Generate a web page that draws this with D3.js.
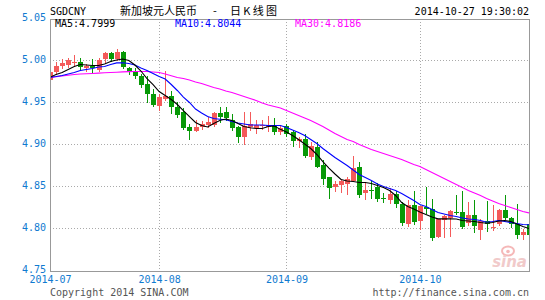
<!DOCTYPE html>
<html><head><meta charset="utf-8">
<script src="https://cdn.jsdelivr.net/npm/d3@7"></script>
<style>body{margin:0;background:#fff}svg{display:block}</style>
</head><body>
<svg id="c" width="545" height="300"></svg>
<script>
// ---- DATA ----
const dates = [
"2014-07-08","2014-07-09","2014-07-10","2014-07-11","2014-07-14","2014-07-15","2014-07-16","2014-07-17","2014-07-18",
"2014-07-21","2014-07-22","2014-07-23","2014-07-24","2014-07-25","2014-07-28","2014-07-29","2014-07-30","2014-07-31",
"2014-08-01","2014-08-04","2014-08-05","2014-08-06","2014-08-07","2014-08-08","2014-08-11","2014-08-12","2014-08-13",
"2014-08-14","2014-08-15","2014-08-18","2014-08-19","2014-08-20","2014-08-21","2014-08-22","2014-08-25","2014-08-26",
"2014-08-27","2014-08-28","2014-08-29",
"2014-09-01","2014-09-02","2014-09-03","2014-09-04","2014-09-05","2014-09-08","2014-09-09","2014-09-10","2014-09-11",
"2014-09-12","2014-09-15","2014-09-16","2014-09-17","2014-09-18","2014-09-19","2014-09-22","2014-09-23","2014-09-24",
"2014-09-25","2014-09-26","2014-09-29","2014-09-30",
"2014-10-01","2014-10-02","2014-10-03","2014-10-06","2014-10-07","2014-10-08","2014-10-09","2014-10-10","2014-10-13",
"2014-10-14","2014-10-15","2014-10-16","2014-10-17","2014-10-20","2014-10-21","2014-10-22","2014-10-23","2014-10-24",
"2014-10-27"];
const open = [
4.9762,4.9861,4.9929,4.9952,4.9976,4.9988,4.9913,4.9940,4.9881,5.0012,
5.0095,5.0012,5.0107,4.9908,4.9873,4.9821,4.9726,4.9607,4.9464,4.9536,
4.9583,4.9452,4.9381,4.9206,4.9158,4.9208,4.9232,4.9238,4.9373,4.9385,
4.9291,4.9206,4.9087,4.9214,4.9196,4.9218,4.9208,4.9238,4.9146,4.9226,
4.9146,4.9039,4.9068,4.8857,4.8968,4.8750,4.8611,4.8492,4.8512,4.8532,
4.8571,4.8730,4.8417,4.8464,4.8492,4.8365,4.8345,4.8405,4.8286,4.8048,
4.8274,4.8087,4.8254,4.8235,4.7896,4.8104,4.8128,4.8202,4.8194,4.8063,
4.8155,4.7984,4.8095,4.8004,4.8048,4.8223,4.8128,4.8048,4.7917,4.8048];
const high = [
4.9929,4.9980,5.0012,5.0024,5.0071,5.0024,4.9964,5.0012,5.0024,5.0107,
5.0107,5.0131,5.0110,4.9920,4.9905,4.9845,4.9821,4.9655,4.9607,4.9873,
4.9634,4.9504,4.9429,4.9250,4.9286,4.9277,4.9333,4.9385,4.9452,4.9444,
4.9369,4.9226,4.9385,4.9385,4.9286,4.9286,4.9345,4.9321,4.9226,4.9246,
4.9167,4.9087,4.9127,4.9027,4.9027,4.8810,4.8615,4.8571,4.8595,4.8611,
4.8869,4.8789,4.8551,4.8563,4.8539,4.8417,4.8488,4.8452,4.8313,4.8342,
4.8452,4.8265,4.8500,4.8357,4.8119,4.8155,4.8223,4.8393,4.8452,4.8313,
4.8342,4.8116,4.8325,4.8274,4.8235,4.8393,4.8135,4.8294,4.7996,4.8214];
const low = [
4.9742,4.9845,4.9905,4.9917,4.9940,4.9893,4.9873,4.9861,4.9873,4.9980,
4.9992,5.0000,4.9905,4.9845,4.9786,4.9690,4.9504,4.9464,4.9405,4.9524,
4.9373,4.9333,4.9187,4.9060,4.9155,4.9190,4.9214,4.9226,4.9265,4.9286,
4.9167,4.9027,4.9000,4.9167,4.9131,4.9190,4.9155,4.9127,4.9127,4.9107,
4.8988,4.8968,4.8849,4.8830,4.8730,4.8524,4.8365,4.8444,4.8432,4.8413,
4.8563,4.8373,4.8351,4.8365,4.8333,4.8321,4.8298,4.8254,4.8036,4.8024,
4.8059,4.8000,4.8179,4.7869,4.7893,4.7896,4.7908,4.8175,4.8008,4.8036,
4.7956,4.7877,4.7976,4.7984,4.8036,4.8116,4.8015,4.7889,4.7877,4.7896];
const close = [
4.9869,4.9940,4.9976,5.0000,4.9988,4.9917,4.9929,4.9905,5.0000,5.0095,
5.0012,5.0107,4.9917,4.9861,4.9813,4.9714,4.9607,4.9476,4.9563,4.9583,
4.9444,4.9357,4.9194,4.9158,4.9214,4.9244,4.9262,4.9373,4.9333,4.9321,
4.9196,4.9087,4.9226,4.9244,4.9238,4.9238,4.9232,4.9146,4.9199,4.9127,
4.9039,4.9068,4.8869,4.8988,4.8738,4.8592,4.8484,4.8524,4.8571,4.8592,
4.8726,4.8393,4.8464,4.8444,4.8354,4.8351,4.8405,4.8286,4.8071,4.8274,
4.8075,4.8262,4.8235,4.7881,4.8116,4.8143,4.8206,4.8182,4.8015,4.8155,
4.8024,4.8095,4.8056,4.8015,4.8223,4.8128,4.8048,4.7917,4.7956,4.7917];
const ma5 = [
4.9801,4.9833,4.9857,4.9893,4.9928,4.9952,4.9946,4.9940,4.9940,4.9958,
4.9988,5.0006,5.0018,5.0000,4.9946,4.9875,4.9785,4.9714,4.9631,4.9583,
4.9535,4.9476,4.9404,4.9333,4.9262,4.9226,4.9208,4.9250,4.9285,4.9303,
4.9285,4.9250,4.9214,4.9199,4.9190,4.9190,4.9214,4.9220,4.9180,4.9149,
4.9107,4.9059,4.9006,4.8952,4.8881,4.8797,4.8720,4.8649,4.8583,4.8565,
4.8559,4.8547,4.8547,4.8535,4.8512,4.8488,4.8452,4.8393,4.8309,4.8262,
4.8232,4.8196,4.8166,4.8137,4.8115,4.8115,4.8115,4.8113,4.8095,4.8089,
4.8083,4.8071,4.8063,4.8071,4.8089,4.8095,4.8083,4.8053,4.8024,4.7999];
const ma10 = [
4.9801,4.9809,4.9821,4.9839,4.9857,4.9881,4.9893,4.9904,4.9922,4.9928,
4.9952,4.9972,4.9974,4.9964,4.9946,4.9910,4.9881,4.9845,4.9809,4.9779,
4.9714,4.9643,4.9565,4.9500,4.9422,4.9375,4.9333,4.9309,4.9301,4.9294,
4.9274,4.9256,4.9244,4.9232,4.9232,4.9232,4.9226,4.9226,4.9226,4.9202,
4.9172,4.9143,4.9107,4.9059,4.9012,4.8952,4.8899,4.8845,4.8797,4.8750,
4.8696,4.8643,4.8607,4.8571,4.8529,4.8500,4.8476,4.8452,4.8416,4.8375,
4.8333,4.8285,4.8262,4.8226,4.8190,4.8172,4.8154,4.8143,4.8125,4.8113,
4.8107,4.8095,4.8075,4.8083,4.8095,4.8083,4.8071,4.8059,4.8047,4.8044];
const ma30 = [
4.9797,4.9806,4.9815,4.9824,4.9833,4.9839,4.9843,4.9846,4.9850,4.9854,
4.9857,4.9860,4.9864,4.9868,4.9869,4.9869,4.9869,4.9863,4.9857,4.9839,
4.9819,4.9797,4.9785,4.9768,4.9744,4.9726,4.9702,4.9678,4.9660,4.9637,
4.9619,4.9595,4.9571,4.9547,4.9524,4.9494,4.9470,4.9452,4.9434,4.9404,
4.9375,4.9345,4.9315,4.9285,4.9250,4.9214,4.9172,4.9131,4.9095,4.9059,
4.9035,4.9000,4.8970,4.8940,4.8916,4.8893,4.8869,4.8845,4.8821,4.8791,
4.8762,4.8738,4.8702,4.8666,4.8631,4.8595,4.8559,4.8524,4.8488,4.8452,
4.8422,4.8393,4.8357,4.8327,4.8297,4.8274,4.8250,4.8226,4.8202,4.8186];
const yTicks = [5.05, 5.00, 4.95, 4.90, 4.85, 4.80, 4.75];
const monthTickDates = ["2014-07-08","2014-08-01","2014-09-01","2014-10-01"];
const monthTickLabels = ["2014-07","2014-08","2014-09","2014-10"];
const maNames = ["MA5","MA10","MA30"];

// ---- DRAW ----
const svg = d3.select("#c");
svg.append("rect").attr("width",545).attr("height",300).attr("fill","#fff");
const L = 50, R = 529, T = 19, B = 271;
const mono = "'DejaVu Sans Mono', 'Liberation Mono', monospace";
const blue = "#0f7ad0";
const UP = "#f45a5a", DOWN = "#079907";

const x = d3.scalePoint().domain(dates).range([L, R]);
const y = d3.scaleLinear().domain([4.75, 5.05]).range([270.5, 18.5]);
const px = d => Math.round(x(d));

// gridlines
const grid = svg.append("g").attr("stroke","#aaa").attr("stroke-dasharray","1,2");
grid.selectAll("line.h").data(yTicks.filter(v => v > 4.76 && v < 5.04)).join("line")
  .attr("x1", L).attr("x2", R).attr("y1", d => y(d)).attr("y2", d => y(d));
grid.selectAll("line.v").data(monthTickDates.slice(1)).join("line")
  .attr("x1", d => px(d)+0.5).attr("x2", d => px(d)+0.5).attr("y1", T).attr("y2", B);

// clip
svg.append("clipPath").attr("id","clip").append("rect")
  .attr("x", L+1).attr("y", T).attr("width", R-L-1).attr("height", B-T);
const plot = svg.append("g").attr("clip-path","url(#clip)");

const idx = d3.range(dates.length);
const col = i => close[i] >= open[i] ? UP : DOWN;
plot.append("g").selectAll("line").data(idx).join("line")
  .attr("x1", i => px(dates[i])+0.5).attr("x2", i => px(dates[i])+0.5)
  .attr("y1", i => Math.round(y(high[i]))).attr("y2", i => Math.round(y(low[i]))+1)
  .attr("stroke", col).attr("stroke-width",1);
plot.append("g").selectAll("rect").data(idx).join("rect")
  .attr("x", i => px(dates[i]) - 2).attr("width", 5)
  .attr("y", i => Math.round(y(Math.max(open[i], close[i]))))
  .attr("height", i => Math.max(1, Math.round(y(Math.min(open[i], close[i]))) - Math.round(y(Math.max(open[i], close[i])))))
  .attr("fill", col).attr("shape-rendering","crispEdges");

// MA lines
const line = d3.line().x((v,i) => x(dates[i])).y(v => y(v));
[[ma30,"#ff00ff"],[ma10,"#0000ff"],[ma5,"#000000"]].forEach(([arr,c]) => {
  plot.append("path").datum(arr).attr("d", line).attr("fill","none")
    .attr("stroke", c).attr("stroke-width", 1.1);
});

// frame
svg.append("rect").attr("x", L+0.5).attr("y", T+0.5).attr("width", R-L).attr("height", B-T)
  .attr("fill","none").attr("stroke","#999").attr("stroke-width",1);

// axes
const ya = svg.append("g").attr("transform",`translate(${L},0)`)
  .call(d3.axisLeft(y).tickValues(yTicks).tickFormat(d3.format(".2f")).tickSize(0).tickPadding(4));
ya.select(".domain").remove();
ya.selectAll("text").attr("fill", blue).attr("font-family", mono).attr("font-size", 10).attr("dy","0.2em");

const xa = svg.append("g").attr("transform",`translate(0,${B})`)
  .call(d3.axisBottom(x).tickValues(monthTickDates).tickFormat((d,i) => monthTickLabels[i]).tickSize(0).tickPadding(5));
xa.select(".domain").remove();
xa.selectAll("text").attr("fill", blue).attr("font-family", mono).attr("font-size", 10);

// header
svg.append("text").attr("x", 50).attr("y", 15).attr("font-family", mono).attr("font-size", 10)
  .attr("fill","#000").text("SGDCNY");
svg.append("text").attr("x", 120).attr("y", 15).attr("font-family","'Noto Sans CJK SC'").attr("font-size", 11)
  .attr("fill","#000").text("新加坡元人民币");
svg.append("text").attr("x", 213).attr("y", 15).attr("font-family","'Noto Sans CJK SC'").attr("font-size", 11)
  .attr("fill","#000").text("-");
svg.append("text").attr("x", 230).attr("y", 15).attr("font-family","'Noto Sans CJK SC'").attr("font-size", 11)
  .attr("fill","#000").attr("textLength", 47).attr("lengthAdjust","spacing").text("日K线图");
svg.append("text").attr("x", 529).attr("y", 15).attr("text-anchor","end").attr("font-family", mono)
  .attr("font-size", 10).attr("fill","#000").text("2014-10-27 19:30:02");

// legend
const last = dates.length - 1;
const legend = [[ma5,"#000",55],[ma10,"#0000ff",175],[ma30,"#ff00ff",295]];
legend.forEach(([arr,c,lx],k) => {
  svg.append("text").attr("x", lx).attr("y", 27).attr("font-family", mono).attr("font-size", 10)
    .attr("fill", c).text(`${maNames[k]}:${arr[last].toFixed(4)}`);
});

// footer
svg.append("text").attr("x", 50).attr("y", 296).attr("font-family", mono).attr("font-size", 10)
  .attr("fill","#555").text("Copyright 2014 SINA.COM");
svg.append("text").attr("x", 529).attr("y", 296).attr("text-anchor","end").attr("font-family", mono)
  .attr("font-size", 10).attr("fill","#555").text("http://finance.sina.com.cn");

// sina watermark
const wm = svg.append("g").attr("opacity", 0.6);
wm.append("ellipse").attr("cx", 508).attr("cy", 251).attr("rx", 6).attr("ry", 4.5)
  .attr("fill","none").attr("stroke","#f08a8a").attr("stroke-width", 2);
wm.append("circle").attr("cx", 508).attr("cy", 251.5).attr("r", 1.8).attr("fill","#f08a8a");
wm.append("text").attr("x", 527).attr("y", 267).attr("text-anchor","end")
  .attr("font-family","'DejaVu Sans'").attr("font-style","italic").attr("font-weight","bold")
  .attr("font-size", 15).attr("fill","#e8a8a8").text("sina");
</script>
</body></html>
